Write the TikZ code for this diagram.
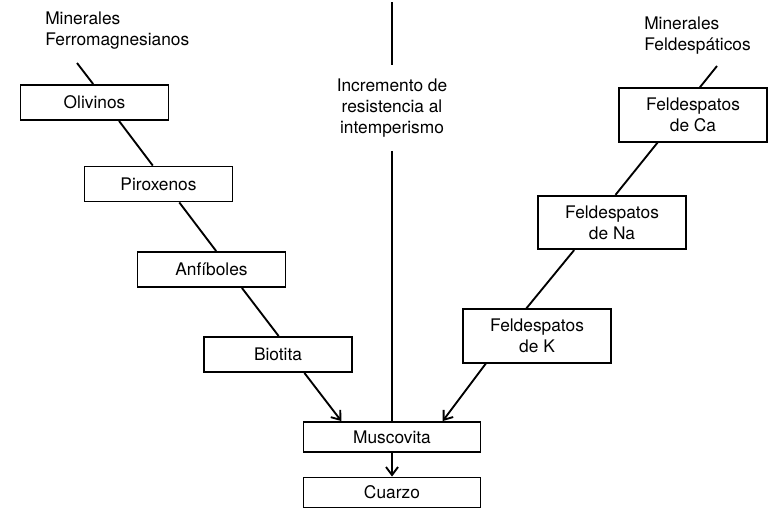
\documentclass[tikz,border=0pt]{standalone}
\usepackage{fontspec}
\setmainfont{TeX Gyre Heros}
\usetikzlibrary{arrows.meta, positioning}

\begin{document}
\begin{tikzpicture}[x=0.75pt, y=-0.75pt,
    font=\fontsize{13}{15.75}\selectfont,
    mineral/.style={rectangle, minimum width=111pt, minimum height=26.25pt,
                  text centered, align=center, draw=black, line width=1.4pt, fill=white},
    wide/.style={minimum width=132.75pt, minimum height=22.5pt},
    tall/.style={minimum height=40pt},
    label/.style={align=left, inner sep=0pt, anchor=north west},
    link/.style={line width=1.4pt},
    arrow/.style={-{Straight Barb[length=6pt, width=9pt]}, line width=1.4pt}]

    \useasboundingbox (0,0) rectangle (773,511);

    % Nodes
    \node[label] (ferro) at (45,12) {Minerales\\Ferromagnesianos};
    \node[label] (feld) at (644,17) {Minerales\\Feldesp\'aticos};
    \node[align=center, inner xsep=2pt, inner ysep=10pt] (resist) at (392,108)
        {Incremento de\\resistencia al\\intemperismo};

    \node[mineral] (olivinos) at (94.5,102.5) {Olivinos};
    \node[mineral] (piroxenos) at (158.5,184) {Piroxenos};
    \node[mineral] (anfiboles) at (211.5,269.5) {Anf\'iboles};
    \node[mineral] (biotita) at (278,354.5) {Biotita};

    \node[mineral, tall] (ca) at (693,115) {Feldespatos\\de Ca};
    \node[mineral, tall] (na) at (612,222.5) {Feldespatos\\de Na};
    \node[mineral, tall] (k) at (537,336) {Feldespatos\\de K};

    \node[mineral, wide] (muscovita) at (392,437) {Muscovita};
    \node[mineral, wide] (cuarzo) at (392,492.5) {Cuarzo};

    \coordinate (ferrostart) at (77,63);
    \coordinate (feldstart) at (717,66);
    \coordinate (axistop) at (392,2);

    % Arrows
    \draw[link] (ferrostart) -- ([xshift=-1pt]olivinos.north);
    \draw[link] ([xshift=18.4pt]olivinos.south) -- ([xshift=-4.3pt]piroxenos.north);
    \draw[link] ([xshift=15.6pt]piroxenos.south) -- ([xshift=3.5pt]anfiboles.north);
    \draw[link] ([xshift=22.8pt]anfiboles.south) -- ([xshift=0.5pt]biotita.north);
    \draw[arrow] ([xshift=19.8pt]biotita.south) -- ([xshift=-38pt]muscovita.north);

    \draw[link] (feldstart) -- ([xshift=5.1pt]ca.north);
    \draw[link] ([xshift=-26.6pt]ca.south) -- ([xshift=2.6pt]na.north);
    \draw[link] ([xshift=-28.4pt]na.south) -- ([xshift=-8pt]k.north);
    \draw[arrow] ([xshift=-38.4pt]k.south) -- ([xshift=38pt]muscovita.north);

    \draw[link] (axistop) -- (resist.north);
    \draw[link] (resist.south) -- (muscovita.north);
    \draw[arrow] (muscovita.south) -- (cuarzo.north);

\end{tikzpicture}
\end{document}
